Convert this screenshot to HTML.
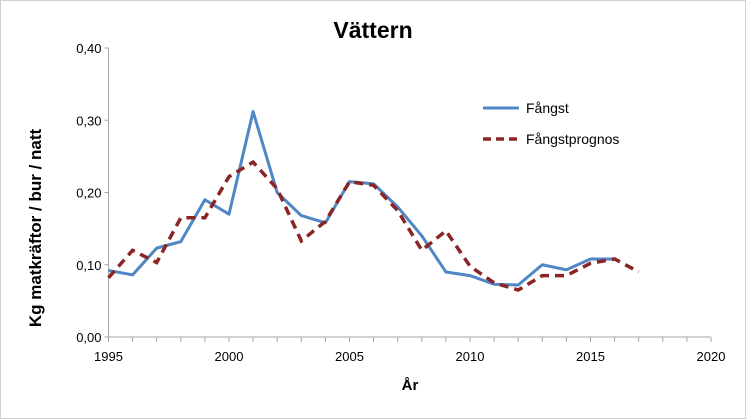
<!DOCTYPE html>
<html><head><meta charset="utf-8"><style>
body{margin:0;background:#fff;}
svg{display:block;font-family:"Liberation Sans",sans-serif;}
</style></head><body>
<svg id="chart" width="746" height="419">
<rect x="0.5" y="0.5" width="745" height="418" fill="#fff" stroke="#d0d0d0"/>
<text x="373" y="38" text-anchor="middle" font-size="23" font-weight="bold" fill="#000">Vättern</text>
<text transform="translate(41,228) rotate(-90)" text-anchor="middle" font-size="17" font-weight="bold" fill="#000">Kg matkräftor / bur / natt</text>
<text x="410" y="390" text-anchor="middle" font-size="15" font-weight="bold" fill="#000">År</text>
<g id="axes"></g>
<g id="series"></g>
<g>
<line x1="483" y1="108" x2="519" y2="108" stroke="#4f86c6" stroke-width="3"/>
<text x="526" y="113" font-size="14" fill="#000">Fångst</text>
<line x1="483" y1="139" x2="519" y2="139" stroke="#8b2525" stroke-width="3.5" stroke-dasharray="8,5"/>
<text x="526" y="144" font-size="14" fill="#000">Fångstprognos</text>
</g>
</svg>
<script>
const yearsF=[1995,1996,1997,1998,1999,2000,2001,2002,2003,2004,2005,2006,2007,2008,2009,2010,2011,2012,2013,2014,2015,2016];
const fangst=[0.092,0.086,0.123,0.132,0.19,0.17,0.312,0.20,0.168,0.158,0.215,0.212,0.18,0.14,0.09,0.085,0.073,0.072,0.10,0.093,0.108,0.108];
const yearsP=[1995,1996,1997,1998,1999,2000,2001,2002,2003,2004,2005,2006,2007,2008,2009,2010,2011,2012,2013,2014,2015,2016,2017];
const prognos=[0.082,0.12,0.103,0.165,0.165,0.222,0.242,0.205,0.133,0.16,0.215,0.21,0.175,0.12,0.147,0.098,0.075,0.065,0.085,0.085,0.102,0.108,0.09];
const yTicks=[0,0.1,0.2,0.3,0.4];
const yTickLabels=["0,00","0,10","0,20","0,30","0,40"];
const xTicks=[1995,2000,2005,2010,2015,2020];
const NS="http://www.w3.org/2000/svg";
const X0=108.5,X1=711,Y0=337,Y1=48;
function xs(v){return X0+(v-1995)/25*(X1-X0);}
function ys(v){return Y0-v/0.4*(Y0-Y1);}
function mk(t,a,p){const e=document.createElementNS(NS,t);for(const k in a)e.setAttribute(k,a[k]);p.appendChild(e);return e;}
const ax=document.getElementById('axes');
let l=mk('line',{x1:X0,y1:Y0,x2:X0,y2:Y1,stroke:'#a6a6a6'},ax);


l=mk('line',{x1:X0,y1:Y0,x2:X1,y2:Y0,stroke:'#a6a6a6'},ax);


yTicks.forEach((v,i)=>{
 mk('line',{x1:X0-4,x2:X0,y1:ys(v),y2:ys(v),stroke:'#a6a6a6'},ax);
 const t=mk('text',{x:X0-7,y:ys(v)+5,'text-anchor':'end','font-size':'13',fill:'#000'},ax);
 t.textContent=yTickLabels[i];
 
 
});
for(let yr=1995;yr<=2020;yr++){mk('line',{x1:xs(yr),x2:xs(yr),y1:Y0,y2:Y0+5,stroke:'#a6a6a6'},ax);}
xTicks.forEach(v=>{
 const t=mk('text',{x:xs(v),y:Y0+24,'text-anchor':'middle','font-size':'13',fill:'#000'},ax);
 t.textContent=v;
 
 
});
const sg=document.getElementById('series');
let p=mk('polyline',{points:yearsF.map((y,i)=>xs(y)+','+ys(fangst[i])).join(' '),fill:'none',stroke:'#4f86c6','stroke-width':3,'stroke-linejoin':'round'},sg);


p=mk('polyline',{points:yearsP.map((y,i)=>xs(y)+','+ys(prognos[i])).join(' '),fill:'none',stroke:'#8b2525','stroke-width':3.5,'stroke-dasharray':'9,6'},sg);


</script>
</body></html>
